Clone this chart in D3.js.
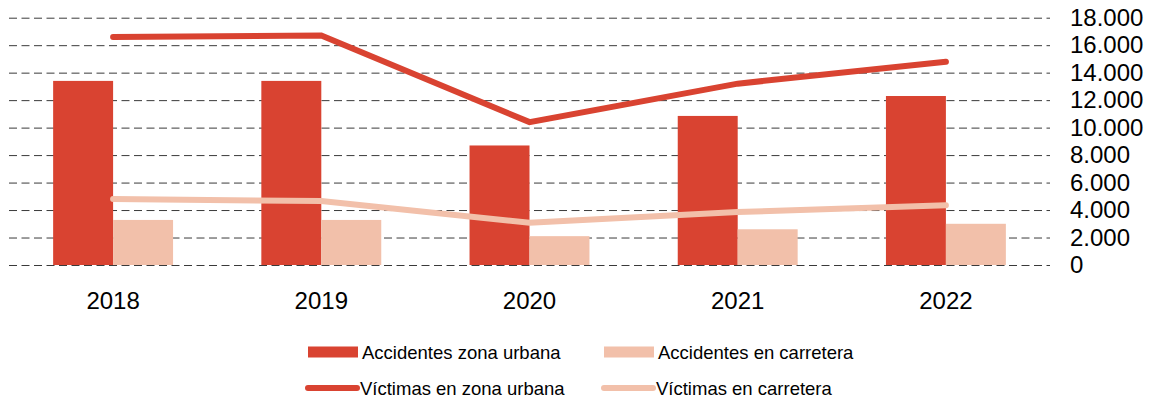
<!DOCTYPE html>
<html>
<head>
<meta charset="utf-8">
<script src="https://cdn.jsdelivr.net/npm/d3@7"></script>
<style>
  body { margin: 0; background: #fff; }
  svg { font-family: Arial, "Liberation Sans", sans-serif; }
</style>
</head>
<body>
<svg width="1155" height="408"></svg>
<script>
// data
const years = ['2018', '2019', '2020', '2021', '2022'];
const accUrbana = [13400, 13400, 8700, 10850, 12300];
const accCarretera = [3280, 3280, 2100, 2600, 3000];
const vicUrbana = [16600, 16700, 10400, 13200, 14800];
const vicCarretera = [4800, 4650, 3080, 3850, 4350];
const yTicks = [0, 2000, 4000, 6000, 8000, 10000, 12000, 14000, 16000, 18000];

const svg = d3.select('svg');
const dark = '#d94331';
const light = '#f2c0aa';

// plot area edges (named pad* so we don't clash with window.top)
const padLeft = 9, padRight = 1050, padTop = 17.7, padBottom = 265;

// groups of two bars
const x0 = d3.scaleBand()
    .domain(years)
    .range([padLeft, padRight])
    .paddingInner(0.424)
    .paddingOuter(0.212);
const x1 = d3.scaleBand()
    .domain(['urbana', 'carretera'])
    .range([0, x0.bandwidth()]);

const y = d3.scaleLinear()
    .domain([0, 18000])
    .range([padBottom, padTop]);

const es = d3.formatLocale({decimal: ',', thousands: '.', grouping: [3], currency: ['', '']});
const fmt = es.format(',');

// gridlines + labels on the right
const yAxis = d3.axisRight(y)
    .tickValues(yTicks)
    .tickSize(padRight - padLeft)
    .tickPadding(20)
    .tickFormat(fmt);

const gy = svg.append('g')
    .attr('transform', 'translate(' + padLeft + ',0)')
    .call(yAxis);
gy.select('.domain').remove();
gy.selectAll('.tick line')
    .attr('stroke', '#3a3a3a')
    .attr('stroke-dasharray', '8,4.5');
gy.selectAll('.tick text')
    .attr('font-size', 24)
    .attr('fill', '#000')
    .attr('font-family', 'Arial, "Liberation Sans", sans-serif');

// bars
const rows = years.map((yr, i) => ({year: yr, urbana: accUrbana[i], carretera: accCarretera[i]}));
const grp = svg.selectAll('g.year')
    .data(rows)
    .enter()
    .append('g')
    .attr('class', 'year')
    .attr('transform', d => 'translate(' + x0(d.year) + ',0)');

grp.selectAll('rect')
    .data(d => [{k: 'urbana', v: d.urbana}, {k: 'carretera', v: d.carretera}])
    .enter()
    .append('rect')
    .attr('x', d => x1(d.k))
    .attr('y', d => y(d.v))
    .attr('width', x1.bandwidth())
    .attr('height', d => y(0) - y(d.v))
    .attr('fill', d => d.k === 'urbana' ? dark : light);

// lines
const line = d3.line()
    .x((d, i) => x0(years[i]) + x0.bandwidth() / 2)
    .y(d => y(d));

svg.append('path')
    .datum(vicCarretera)
    .attr('d', line)
    .attr('fill', 'none')
    .attr('stroke', light)
    .attr('stroke-width', 6)
    .attr('stroke-linecap', 'round');

svg.append('path')
    .datum(vicUrbana)
    .attr('d', line)
    .attr('fill', 'none')
    .attr('stroke', dark)
    .attr('stroke-width', 6)
    .attr('stroke-linecap', 'round');

// x labels
svg.selectAll('text.xl')
    .data(years)
    .enter()
    .append('text')
    .attr('class', 'xl')
    .attr('x', d => x0(d) + x0.bandwidth() / 2)
    .attr('y', 309)
    .attr('text-anchor', 'middle')
    .attr('font-size', 24)
    .attr('fill', '#000')
    .text(d => d);

// legend
const legend = [
    {name: 'Accidentes zona urbana', color: dark, type: 'bar', x: 308, y: 352},
    {name: 'Accidentes en carretera', color: light, type: 'bar', x: 604, y: 352},
    {name: 'Víctimas en zona urbana', color: dark, type: 'line', x: 308, y: 388},
    {name: 'Víctimas en carretera', color: light, type: 'line', x: 604, y: 388}
];

const lg = svg.selectAll('g.lg')
    .data(legend)
    .enter()
    .append('g')
    .attr('class', 'lg')
    .attr('transform', d => 'translate(' + d.x + ',' + d.y + ')');

lg.filter(d => d.type === 'bar')
    .append('rect')
    .attr('x', 0)
    .attr('y', -5.5)
    .attr('width', 50)
    .attr('height', 11)
    .attr('fill', d => d.color);

lg.filter(d => d.type === 'line')
    .append('line')
    .attr('x1', 0)
    .attr('x2', 49)
    .attr('stroke', d => d.color)
    .attr('stroke-width', 6)
    .attr('stroke-linecap', 'round');

lg.append('text')
    .attr('x', d => d.type === 'bar' ? 54 : 52)
    .attr('y', 6.5)
    .attr('font-size', 18.5)
    .attr('fill', '#000')
    .text(d => d.name);
</script>
</body>
</html>
